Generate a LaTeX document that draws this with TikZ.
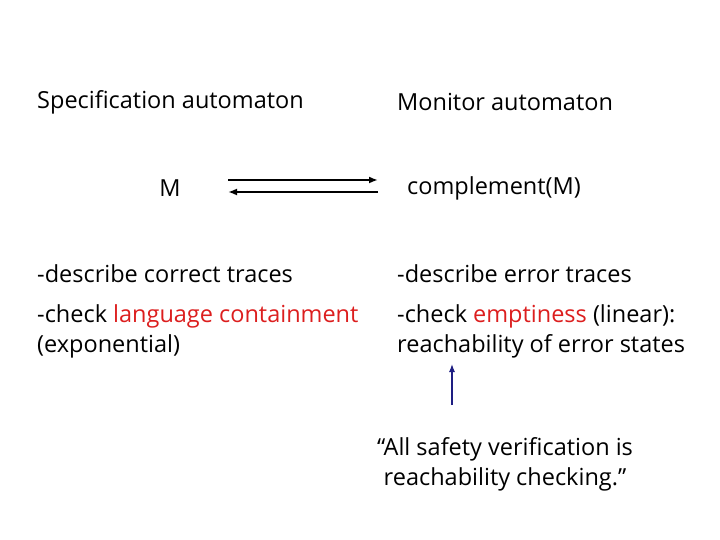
\documentclass[tikz,border=0pt]{standalone}
\usepackage{fontspec}
\setmainfont{Open Sans}
\usetikzlibrary{positioning,arrows.meta}
\definecolor{hired}{RGB}{220,30,30}
\definecolor{arrowblue}{RGB}{30,30,130}
\tikzset{
  txt/.style={anchor=west,inner sep=0pt,font=\fontsize{23.5}{30}\selectfont,align=left},
  ctxt/.style={inner sep=0pt,font=\fontsize{23.5}{30}\selectfont,align=center},
  link/.style={line width=2pt,-{Latex[length=9pt,width=7pt]}}
}
\newcommand{\hl}[1]{\textcolor{hired}{#1}}
\begin{document}
\begin{tikzpicture}[x=1pt,y=-1pt]
  \useasboundingbox (0,0) rectangle (720,540);
  \node[txt] (spec) at (37,102) {Specification automaton};
  \node[txt] (mon) at (397,102) {Monitor automaton};
  \node[ctxt] (m) at (170,188) {M};
  \node[ctxt] (comp) at (494,188) {complement(M)};
  \coordinate (al) at (228,180);
  \coordinate (ar) at (378,180);
  \coordinate (bl) at (228,192);
  \coordinate (br) at (378,192);
  \draw[link] (al) -- (ar);
  \draw[link] (br) -- (bl);
  \node[txt] (desc1) at (37,274) {-describe correct traces};
  \node[txt] (desc2) at (397,274) {-describe error traces};
  \node[txt,anchor=north west] (chk1) at (37,304) {-check \hl{language containment}\\(exponential)};
  \node[txt,anchor=north west] (chk2) at (397,304) {-check \hl{emptiness} (linear):\\reachability of error states};
  \node[ctxt] (quote) at (505,464) {``All safety verification is\\reachability checking.''};
  \coordinate (qa) at (452,405);
  \coordinate (qb) at (452,364);
  \draw[arrowblue,line width=1.2pt,-{Latex[length=8pt,width=6pt]}] (qa) -- (qb);
\end{tikzpicture}
\end{document}
